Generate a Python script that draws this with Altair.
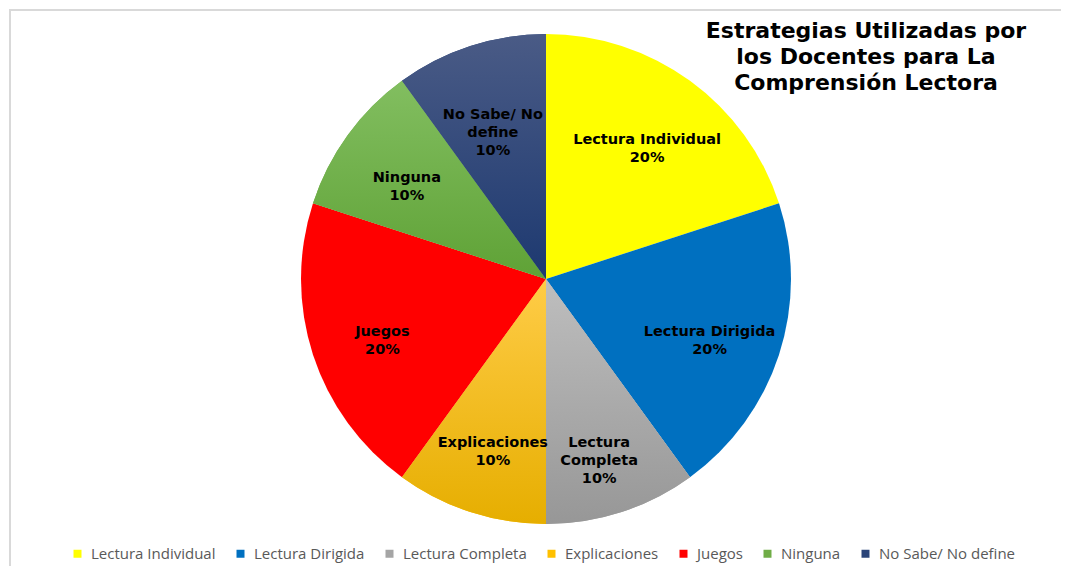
import altair as alt
import pandas as pd

categories = ["Lectura Individual", "Lectura Dirigida", "Lectura Completa",
              "Explicaciones", "Juegos", "Ninguna", "No Sabe/ No define"]
percentages = [20, 20, 10, 10, 20, 10, 10]
slice_labels = ["Lectura Individual", "Lectura Dirigida", "Lectura\nCompleta",
                "Explicaciones", "Juegos", "Ninguna", "No Sabe/ No\ndefine"]
colors = ["#FFFF00", "#0070C0", "#A5A5A5", "#FFC000", "#FF0000", "#70AD47", "#2A4479"]
gradients = {
    "Lectura Completa": ("#BEBEBE", "#979797"),
    "Explicaciones": ("#FFCC47", "#E6AE00"),
    "Ninguna": ("#82BE60", "#5FA236"),
    "No Sabe/ No define": ("#4A5B86", "#1D3970"),
}
title_lines = ["Estrategias Utilizadas por", "los Docentes para La", "Comprensión Lectora"]

df = pd.DataFrame({"cat": categories, "pct": percentages, "lab": slice_labels})
df["end"] = df["pct"].cumsum()
df["start"] = df["end"] - df["pct"]
df["mid"] = (df["start"] + df["end"]) / 2
df["txt"] = df["lab"] + "\n" + df["pct"].astype(str) + "%"

W, H = 1053, 558
CX, CY, R = 537, 270, 245

theta = alt.Theta("start:Q", scale=alt.Scale(domain=[0, 100]))
theta2 = alt.Theta2("end:Q")

base = alt.Chart(df).mark_arc(radius=R).encode(
    theta=theta, theta2=theta2,
    x=alt.value(CX), y=alt.value(CY),
    color=alt.Color("cat:N", sort=categories,
                    scale=alt.Scale(domain=categories, range=colors),
                    legend=alt.Legend(orient="none", legendX=61, legendY=537,
                                      direction="horizontal", title=None,
                                      symbolType="square", symbolSize=64,
                                      symbolStrokeWidth=0,
                                      labelFont="Open Sans", labelFontSize=15,
                                      labelColor="#595959", labelLimit=0,
                                      columnPadding=17, labelOffset=6)),
)

layers = [base]
for c, (top, bot) in gradients.items():
    layers.append(
        alt.Chart(df).transform_filter(alt.datum.cat == c).mark_arc(
            radius=R,
            color=alt.Gradient(gradient="linear", x1=0, y1=0, x2=0, y2=1,
                               stops=[alt.GradientStop(offset=0, color=top),
                                      alt.GradientStop(offset=1, color=bot)]),
        ).encode(theta=theta, theta2=theta2, x=alt.value(CX), y=alt.value(CY))
    )

labels = alt.Chart(df).mark_text(
    radius=172, font="DejaVu Sans", fontWeight="bold", fontSize=14.5,
    lineBreak="\n", color="black", lineHeight=18,
).encode(theta=alt.Theta("mid:Q", scale=alt.Scale(domain=[0, 100])),
         text="txt:N", x=alt.value(CX), y=alt.value(CY))
layers.append(labels)

title = alt.Chart(pd.DataFrame({"t": [0]})).mark_text(
    font="DejaVu Sans", fontWeight="bold", fontSize=22, lineHeight=26,
    align="center", baseline="top", color="black",
).encode(x=alt.value(857), y=alt.value(12), text=alt.value(title_lines))
layers.append(title)

top_rule = alt.Chart(pd.DataFrame({"t": [0]})).mark_rule(color="#D9D9D9", strokeWidth=2).encode(
    x=alt.value(0), x2=alt.value(W), y=alt.value(1))
left_rule = alt.Chart(pd.DataFrame({"t": [0]})).mark_rule(color="#D9D9D9", strokeWidth=2).encode(
    x=alt.value(1), y=alt.value(0), y2=alt.value(H))
layers += [top_rule, left_rule]

chart = alt.layer(*layers).properties(
    width=W, height=H, padding=0,
    autosize=alt.AutoSizeParams(type="fit", contains="padding"),
    background="white",
).configure_view(stroke=None)

chart.save("out.html", embed_options={"renderer": "svg", "actions": False})
